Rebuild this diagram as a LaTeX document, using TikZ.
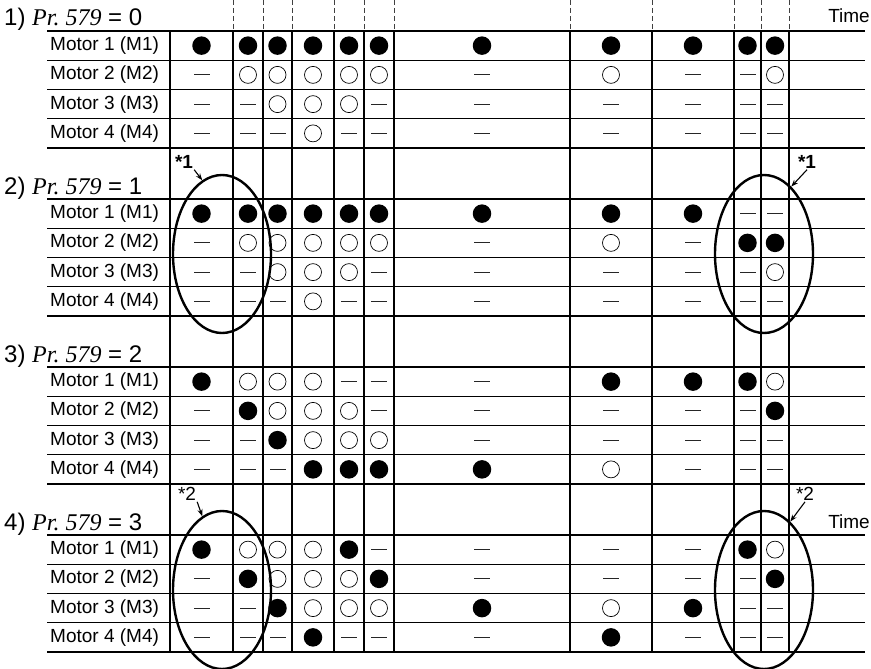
\documentclass[tikz,border=0pt]{standalone}
\usepackage{fontspec}
\setmainfont{Liberation Sans}
\newfontfamily\prfont{Liberation Serif}
\usetikzlibrary{arrows.meta, shapes.geometric}
\newcommand{\parno}{{\prfont\itshape Pr.\ 579}}

\begin{document}
\begin{tikzpicture}[
  x=1pt, y=-1pt,
  grid/.style={line width=1.1pt},
  guide/.style={line width=0.8pt, black!75, dash pattern=on 5pt off 3pt},
  fdot/.style={circle, fill=black, minimum size=18.5pt, inner sep=0pt},
  odot/.style={circle, draw, line width=0.7pt, minimum size=17pt, inner sep=0pt},
  bar/.style={rectangle, fill=black!85, minimum width=16pt, minimum height=1pt, inner sep=0pt},
  motor/.style={anchor=west, font=\fontsize{19}{21}\selectfont, inner sep=0pt},
  head/.style={anchor=base west, font=\fontsize{24}{26}\selectfont, inner sep=0pt},
  oval/.style={ellipse, draw, line width=2.4pt, minimum width=98pt,
               minimum height=158pt, inner sep=0pt},
  note/.style={font=\fontsize{19}{20}\selectfont, inner sep=1pt},
  arr/.style={-{Stealth[length=7pt, width=5pt]}, line width=1.1pt}
]
\useasboundingbox (0,0) rectangle (871,669);

% column centres
\foreach \x [count=\c] in {201.5,248,277.5,313,349,379,482,611,693,747.5,775}
  \coordinate (col\c) at (\x,0);

% rules
\foreach \x in {233,263,292,334,364,394,570,652,734,761,789}
  \draw[guide] (\x,0) -- (\x,31);
\foreach \x in {170,233,263,292,334,364,394,570,652,734,761,789}
  \draw[grid] (\x,31) -- (\x,652);
\foreach \g in {0,...,3}
  \foreach \r in {0,...,4}
    \draw[grid] (47,31+168*\g+29.25*\r) -- (865,31+168*\g+29.25*\r);

\node[head] (h1) at (4,26)  {1) \parno{} = 0};
\node[head] (h2) at (4,194) {2) \parno{} = 1};
\node[head] (h3) at (4,362) {3) \parno{} = 2};
\node[head] (h4) at (4,530) {4) \parno{} = 3};

\node[note, anchor=east] (t1) at (871,16)  {Time};
\node[note, anchor=east] (t4) at (871,522) {Time};

% 1) Pr. 579 = 0
\foreach \m/\cells in {
  1/{fdot,fdot,fdot,fdot,fdot,fdot,fdot,fdot,fdot,fdot,fdot},
  2/{bar,odot,odot,odot,odot,odot,bar,odot,bar,bar,odot},
  3/{bar,bar,odot,odot,odot,bar,bar,bar,bar,bar,bar},
  4/{bar,bar,bar,odot,bar,bar,bar,bar,bar,bar,bar}} {
  \node[motor] (g1m\m) at (50,{31+29.25*(\m-0.5)}) {Motor \m\ (M\m)};
  \foreach \s [count=\c] in \cells
    \node[\s] (g1m\m-\c) at (col\c |- g1m\m) {};
}

% 2) Pr. 579 = 1
\foreach \m/\cells in {
  1/{fdot,fdot,fdot,fdot,fdot,fdot,fdot,fdot,fdot,bar,bar},
  2/{bar,odot,odot,odot,odot,odot,bar,odot,bar,fdot,fdot},
  3/{bar,bar,odot,odot,odot,bar,bar,bar,bar,bar,odot},
  4/{bar,bar,bar,odot,bar,bar,bar,bar,bar,bar,bar}} {
  \node[motor] (g2m\m) at (50,{199+29.25*(\m-0.5)}) {Motor \m\ (M\m)};
  \foreach \s [count=\c] in \cells
    \node[\s] (g2m\m-\c) at (col\c |- g2m\m) {};
}

% 3) Pr. 579 = 2
\foreach \m/\cells in {
  1/{fdot,odot,odot,odot,bar,bar,bar,fdot,fdot,fdot,odot},
  2/{bar,fdot,odot,odot,odot,bar,bar,bar,bar,bar,fdot},
  3/{bar,bar,fdot,odot,odot,odot,bar,bar,bar,bar,bar},
  4/{bar,bar,bar,fdot,fdot,fdot,fdot,odot,bar,bar,bar}} {
  \node[motor] (g3m\m) at (50,{367+29.25*(\m-0.5)}) {Motor \m\ (M\m)};
  \foreach \s [count=\c] in \cells
    \node[\s] (g3m\m-\c) at (col\c |- g3m\m) {};
}

% 4) Pr. 579 = 3
\foreach \m/\cells in {
  1/{fdot,odot,odot,odot,fdot,bar,bar,bar,bar,fdot,odot},
  2/{bar,fdot,odot,odot,odot,fdot,bar,bar,bar,bar,fdot},
  3/{bar,bar,fdot,odot,odot,odot,fdot,odot,fdot,bar,bar},
  4/{bar,bar,bar,fdot,bar,bar,bar,fdot,bar,bar,bar}} {
  \node[motor] (g4m\m) at (50,{535+29.25*(\m-0.5)}) {Motor \m\ (M\m)};
  \foreach \s [count=\c] in \cells
    \node[\s] (g4m\m-\c) at (col\c |- g4m\m) {};
}

% notes
\node[oval] (e2l) at (222,254) {};
\node[oval] (e2r) at (764,254) {};
\node[oval] (e4l) at (222,590) {};
\node[oval] (e4r) at (764,590) {};

\node[note, font=\fontsize{19}{20}\selectfont\bfseries] (s1l) at (184,162) {*1};
\node[note, font=\fontsize{19}{20}\selectfont\bfseries] (s1r) at (807,162) {*1};
\node[note] (s2l) at (187,494) {*2};
\node[note] (s2r) at (805,494) {*2};

\draw[arr] (s1l.south east) -- (e2l.105);
\draw[arr] (s1r.south) -- (e2r.68);
\draw[arr] (s2l.south east) -- (e4l.105);
\draw[arr] (s2r.south) -- (e4r.69);

\end{tikzpicture}
\end{document}
